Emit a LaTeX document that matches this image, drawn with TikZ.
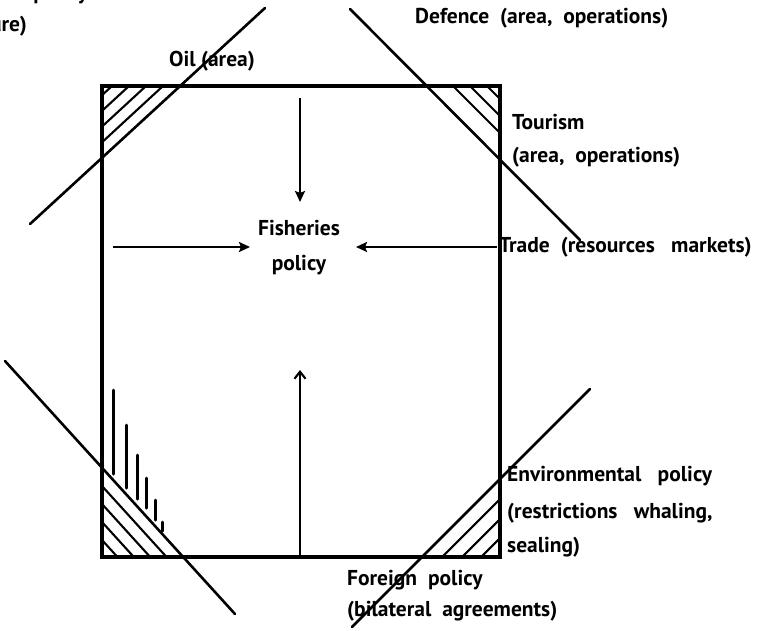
\documentclass[tikz,border=0pt]{standalone}
\usepackage{fontspec}
\setmainfont{PT Sans}
\usetikzlibrary{arrows.meta}
\begin{document}
\begin{tikzpicture}[x=1pt,y=-1pt,
  frame/.style={line width=3.1pt,line cap=round,line join=miter},
  cutline/.style={line width=2.6pt,line cap=round},
  hatchline/.style={line width=2.1pt},
  bar/.style={line width=3pt,line cap=round},
  flow/.style={line width=2.6pt,-{Stealth[length=11pt,width=10pt,inset=2pt]}},
  flowopen/.style={line width=2.6pt,-{Straight Barb[length=7pt,width=11pt,line width=2.1pt]}},
  lab/.style={font=\fontsize{21.5}{25}\selectfont\bfseries,inner sep=0pt,anchor=west}]
\useasboundingbox (0,0) rectangle (779,630);

% frame of the fisheries sector
\coordinate (TL) at (102,86);
\coordinate (TR) at (500,86);
\coordinate (BR) at (500,557);
\coordinate (BL) at (102,557);
\draw[frame] (TL) -- (TR) -- (BR) -- (BL) -- cycle;

% overlapping sectors cutting the corners
\coordinate (oilA) at (30,224);
\coordinate (oilB) at (265,8);
\draw[cutline] (oilA) -- (oilB);
\coordinate (defA) at (350,9);
\coordinate (defB) at (580,240);
\draw[cutline] (defA) -- (defB);
\coordinate (envA) at (352,627);
\coordinate (envB) at (590,389);
\draw[cutline] (envA) -- (envB);
\coordinate (forA) at (5,361);
\coordinate (forB) at (235,614);
\draw[cutline] (forA) -- (forB);

% hatching of the shared corners
\foreach \x/\y in {163/142.3,146/126.6,129/110.9,112/95.2}
  \draw[hatchline] (\x,86) -- (102,\y);
\foreach \x in {453,470,487}
  \draw[hatchline] (\x,86) -- (500,{86+500-\x});
\foreach \x in {442,462,481}
  \draw[hatchline] (\x,557) -- (500,{557-500+\x});
\foreach \y in {486,504,522,540}
  \draw[hatchline] (102,\y) -- ({102+(557-\y)/1.1},557);

% vertical bars above the lower-left corner
\foreach \x/\a/\b in {113/390/474,126/425/488,137/455/499,146/478/508,155/500/520,162/522/531}
  \draw[bar] (\x,\a) -- (\x,\b);

% central node and the influences acting on it
\node[font=\fontsize{21.5}{35}\selectfont\bfseries,align=center,inner sep=0pt] (fish) at (299,248) {Fisheries\\policy};
\coordinate (inTop) at (300,98);
\coordinate (tipTop) at (300,202);
\coordinate (inLeft) at (113,247);
\coordinate (tipLeft) at (250,247);
\coordinate (inRight) at (497,247);
\coordinate (tipRight) at (356,247);
\coordinate (inBottom) at (300,557);
\coordinate (tipBottom) at (300,370);
\draw[flow] (inTop) -- (tipTop);
\draw[flow] (inLeft) -- (tipLeft);
\draw[flow] (inRight) -- (tipRight);
\draw[flowopen] (inBottom) -- (tipBottom);

% sector labels
\node[lab,anchor=east] (agr1) at (88,-6) {Industrial policy};
\node[lab,anchor=east] (agr2) at (27,26) {(infrastructure)};
\node[lab,anchor=center] (oil) at (212,61) {Oil\ (area)};
\node[lab] (def) at (415,18) {Defence\ \ (area,\ \ operations)};
\node[lab] (tou1) at (512,122) {Tourism};
\node[lab] (tou2) at (512,157) {(area,\ \ operations)};
\node[lab] (tra) at (499,247) {Trade\ \ (resources\ \ \ markets)};
\node[lab] (env1) at (507,476) {Environmental\ \ \ policy};
\node[lab] (env2) at (507,513) {(restrictions\ \ \ whaling,};
\node[lab] (env3) at (507,547) {sealing)};
\node[lab] (for1) at (347,580) {Foreign\ \ policy};
\node[lab] (for2) at (347,611) {(bilateral\ \ agreements)};
\end{tikzpicture}
\end{document}
